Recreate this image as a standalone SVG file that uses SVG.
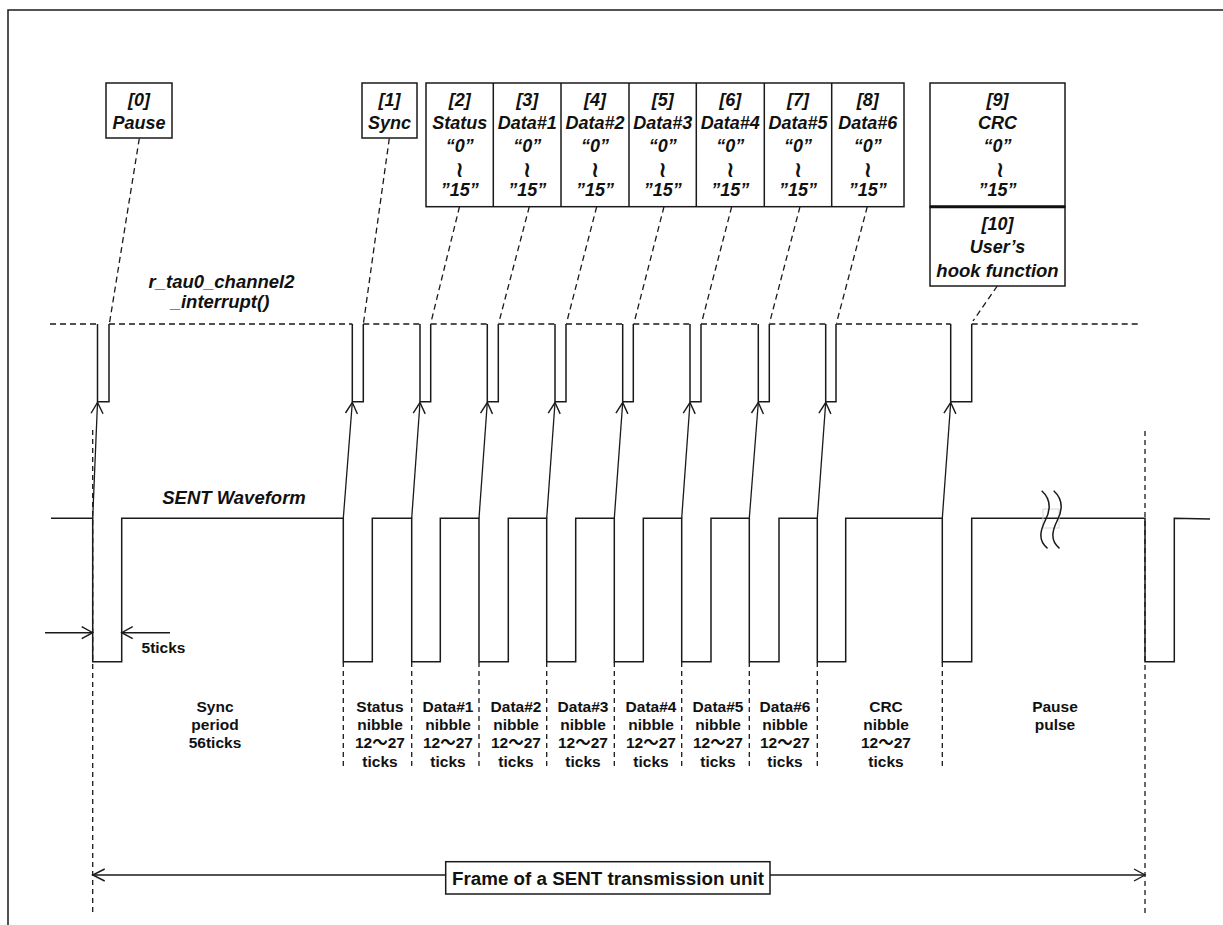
<svg xmlns="http://www.w3.org/2000/svg" width="1223" height="925" viewBox="0 0 1223 925">
<style>
  .bi { font-family: "Liberation Sans", Arial, sans-serif; font-weight: bold; font-style: italic; font-size: 18px; fill: #111; text-anchor: middle; }
  .bl { font-size: 18.5px; }
  .b { font-family: "Liberation Sans", Arial, "Noto Sans CJK JP", sans-serif; font-weight: bold; font-size: 15.5px; fill: #111; text-anchor: middle; }
  .fr { font-size: 18.8px; }
  .wave { font-family: "DejaVu Sans", sans-serif; font-weight: bold; font-size: 22px; fill: #111; text-anchor: middle; }
  .box { fill: #fff; stroke: #1a1a1a; stroke-width: 1.5; }
  .sig { fill: none; stroke: #1a1a1a; stroke-width: 1.5; }
  .dash { fill: none; stroke: #1a1a1a; stroke-width: 1.3; stroke-dasharray: 6 4; }
  .vdash { fill: none; stroke: #1a1a1a; stroke-width: 1.3; stroke-dasharray: 5 4; }
  .arr { fill: none; stroke: #1a1a1a; stroke-width: 1.3; marker-end: url(#open); }
</style>
<defs>
  <marker id="open" markerUnits="userSpaceOnUse" markerWidth="20" markerHeight="20" refX="0" refY="0" orient="auto" overflow="visible">
    <path d="M-11,-6 L0,0 L-11,6" fill="none" stroke="#1a1a1a" stroke-width="1.4"/>
  </marker>
  <marker id="openStart" markerUnits="userSpaceOnUse" markerWidth="20" markerHeight="20" refX="0" refY="0" orient="auto-start-reverse" overflow="visible">
    <path d="M-12,-6 L0,0 L-12,6" fill="none" stroke="#1a1a1a" stroke-width="1.4"/>
  </marker>
</defs>
<rect x="0" y="0" width="1223" height="925" fill="#fff"/>
<rect x="8" y="10" width="1240" height="1000" fill="none" stroke="#1a1a1a" stroke-width="1.5"/>

<!-- Signal lines drawn directly -->
<g id="interrupt-line">
  <path class="dash" d="M50,324H97.5 M109,324H352.3 M363.3,324H420 M430.7,324H487.3 M498.3,324H555 M566,324H622.7 M633.3,324H690 M701,324H758.3 M769.3,324H825.7 M836,324H950.7 M971.7,324H1138"/>
  <path class="sig" d="M97.5,324V401.7H109V324 M352.3,324V401.7H363.3V324 M420,324V401.7H430.7V324 M487.3,324V401.7H498.3V324 M555,324V401.7H566V324 M622.7,324V401.7H633.3V324 M690,324V401.7H701V324 M758.3,324V401.7H769.3V324 M825.7,324V401.7H836V324 M950.7,324V401.7H971.7V324"/>
  <text class="bi bl" x="221.5" y="288">r_tau0_channel2</text>
  <text class="bi bl" x="220" y="308">_interrupt()</text>
</g>

<g id="frame-guides">
  <path class="vdash" d="M92.7,430V913 M1145,431V913"/>
  <path class="vdash" d="M343.3,662V768 M411.7,662V768 M479,662V768 M546.7,662V768 M614.3,662V768 M681.7,662V768 M749.3,662V768 M817.3,662V768 M942.3,662V768"/>
</g>

<g id="sent-waveform">
  <path class="sig" d="M51,518.3H92.7V661.7H121.7V518.3H343.3V661.7H372.3V518.3H411.7V661.7H440.3V518.3H479V661.7H508.3V518.3H546.7V661.7H575.7V518.3H614.3V661.7H643.3V518.3H681.7V661.7H711V518.3H749.3V661.7H779V518.3H817.3V661.7H845.7V518.3H942.3V661.7H971.7V518.3H1145V661.7H1174.3V518.3L1210,519"/>
  <rect x="1043" y="509" width="16" height="19" fill="none" stroke="#d6d6d6" stroke-width="1"/>
  <path class="sig" d="M1041.7,490.7C1052,500 1050,511 1045.5,520C1041,529 1037,540 1047.5,548.3 M1053.7,490.7C1064,500 1062,511 1057.5,520C1053,529 1049,540 1059.5,548.3" stroke-width="1.3"/>
  <text class="bi bl" x="234" y="504">SENT Waveform</text>
</g>

<g id="five-ticks">
  <line class="sig" x1="45" y1="632.7" x2="92.7" y2="632.7" stroke-width="1.3" marker-end="url(#open)"/>
  <line class="sig" x1="170" y1="632.7" x2="121.7" y2="632.7" stroke-width="1.3" marker-end="url(#open)"/>
  <text class="b" x="163.5" y="652.5">5ticks</text>
</g>

<!-- Nodes -->
<g id="node-0">
  <rect class="box" x="106" y="83" width="66" height="55"/>
  <text class="bi" x="139" y="106">[0]</text>
  <text class="bi" x="139" y="129">Pause</text>
</g>
<g id="node-1">
  <rect class="box" x="362" y="83" width="55" height="55"/>
  <text class="bi" x="389.5" y="106">[1]</text>
  <text class="bi" x="389.5" y="129">Sync</text>
</g>
<g id="node-2-8">
  <rect class="box" x="426" y="83" width="478" height="123.7"/>
  <path class="sig" d="M493.3,83V206.7 M561,83V206.7 M629,83V206.7 M696.3,83V206.7 M764.3,83V206.7 M831.7,83V206.7"/>
</g>
<g id="node-2">
  <text class="bi" x="459.7" y="106">[2]</text>
  <text class="bi" x="459.7" y="129">Status</text>
  <text class="bi" x="459.7" y="151.5">“0”</text>
  <text class="wave" x="459.7" y="176.5">≀</text>
  <text class="bi" x="459.7" y="196">”15”</text>
</g>
<g id="node-3">
  <text class="bi" x="527.2" y="106">[3]</text>
  <text class="bi" x="527.2" y="129">Data#1</text>
  <text class="bi" x="527.2" y="151.5">“0”</text>
  <text class="wave" x="527.2" y="176.5">≀</text>
  <text class="bi" x="527.2" y="196">”15”</text>
</g>
<g id="node-4">
  <text class="bi" x="595" y="106">[4]</text>
  <text class="bi" x="595" y="129">Data#2</text>
  <text class="bi" x="595" y="151.5">“0”</text>
  <text class="wave" x="595" y="176.5">≀</text>
  <text class="bi" x="595" y="196">”15”</text>
</g>
<g id="node-5">
  <text class="bi" x="662.7" y="106">[5]</text>
  <text class="bi" x="662.7" y="129">Data#3</text>
  <text class="bi" x="662.7" y="151.5">“0”</text>
  <text class="wave" x="662.7" y="176.5">≀</text>
  <text class="bi" x="662.7" y="196">”15”</text>
</g>
<g id="node-6">
  <text class="bi" x="730.3" y="106">[6]</text>
  <text class="bi" x="730.3" y="129">Data#4</text>
  <text class="bi" x="730.3" y="151.5">“0”</text>
  <text class="wave" x="730.3" y="176.5">≀</text>
  <text class="bi" x="730.3" y="196">”15”</text>
</g>
<g id="node-7">
  <text class="bi" x="798" y="106">[7]</text>
  <text class="bi" x="798" y="129">Data#5</text>
  <text class="bi" x="798" y="151.5">“0”</text>
  <text class="wave" x="798" y="176.5">≀</text>
  <text class="bi" x="798" y="196">”15”</text>
</g>
<g id="node-8">
  <text class="bi" x="867.8" y="106">[8]</text>
  <text class="bi" x="867.8" y="129">Data#6</text>
  <text class="bi" x="867.8" y="151.5">“0”</text>
  <text class="wave" x="867.8" y="176.5">≀</text>
  <text class="bi" x="867.8" y="196">”15”</text>
</g>
<g id="node-9">
  <rect class="box" x="930" y="83" width="135" height="123.7"/>
  <text class="bi" x="997.5" y="106">[9]</text>
  <text class="bi" x="997.5" y="129">CRC</text>
  <text class="bi" x="997.5" y="151.5">“0”</text>
  <text class="wave" x="1000" y="176.5">≀</text>
  <text class="bi" x="997.5" y="196">”15”</text>
</g>
<g id="node-10">
  <rect class="box" x="930" y="206.7" width="135" height="79.3"/>
  <line x1="930" y1="206.7" x2="1065" y2="206.7" stroke="#111" stroke-width="3"/>
  <text class="bi" x="997.5" y="230">[10]</text>
  <text class="bi" x="997.5" y="253">User’s</text>
  <text class="bi bl" x="997.5" y="276.5">hook function</text>
</g>

<!-- Connectors -->
<g id="connectors">
  <path class="dash" d="M139.3,138.5L109.5,323 M389.3,138.5L363.5,323 M459.5,206.7L430.8,323 M529.3,206.7L498.7,323 M596.7,206.7L566.5,323 M664,206.7L634,323 M731.7,206.7L701.5,323 M800,206.7L769.5,323 M867.3,206.7L836.5,323 M997.3,286L973,321"/>
  <line class="arr" x1="92.7" y1="518.3" x2="97.5" y2="402.5"/>
  <line class="arr" x1="343.3" y1="518.3" x2="352.3" y2="402.5"/>
  <line class="arr" x1="411.7" y1="518.3" x2="420" y2="402.5"/>
  <line class="arr" x1="479" y1="518.3" x2="487.3" y2="402.5"/>
  <line class="arr" x1="546.7" y1="518.3" x2="555" y2="402.5"/>
  <line class="arr" x1="614.3" y1="518.3" x2="622.7" y2="402.5"/>
  <line class="arr" x1="681.7" y1="518.3" x2="690" y2="402.5"/>
  <line class="arr" x1="749.3" y1="518.3" x2="758.3" y2="402.5"/>
  <line class="arr" x1="817.3" y1="518.3" x2="825.7" y2="402.5"/>
  <line class="arr" x1="942.3" y1="518.3" x2="950.7" y2="402.5"/>
</g>

<g id="period-labels">
  <text class="b" x="215" y="711.5">Sync</text>
  <text class="b" x="215" y="729.5">period</text>
  <text class="b" x="215" y="747.5">56ticks</text>
  <text class="b" x="380" y="711.5">Status</text>
  <text class="b" x="380" y="730">nibble</text>
  <text class="b" x="380" y="748">12～27</text>
  <text class="b" x="380" y="766.5">ticks</text>
  <text class="b" x="448" y="711.5">Data#1</text>
  <text class="b" x="448" y="730">nibble</text>
  <text class="b" x="448" y="748">12～27</text>
  <text class="b" x="448" y="766.5">ticks</text>
  <text class="b" x="516" y="711.5">Data#2</text>
  <text class="b" x="516" y="730">nibble</text>
  <text class="b" x="516" y="748">12～27</text>
  <text class="b" x="516" y="766.5">ticks</text>
  <text class="b" x="583" y="711.5">Data#3</text>
  <text class="b" x="583" y="730">nibble</text>
  <text class="b" x="583" y="748">12～27</text>
  <text class="b" x="583" y="766.5">ticks</text>
  <text class="b" x="651" y="711.5">Data#4</text>
  <text class="b" x="651" y="730">nibble</text>
  <text class="b" x="651" y="748">12～27</text>
  <text class="b" x="651" y="766.5">ticks</text>
  <text class="b" x="718" y="711.5">Data#5</text>
  <text class="b" x="718" y="730">nibble</text>
  <text class="b" x="718" y="748">12～27</text>
  <text class="b" x="718" y="766.5">ticks</text>
  <text class="b" x="785" y="711.5">Data#6</text>
  <text class="b" x="785" y="730">nibble</text>
  <text class="b" x="785" y="748">12～27</text>
  <text class="b" x="785" y="766.5">ticks</text>
  <text class="b" x="886" y="711.5">CRC</text>
  <text class="b" x="886" y="730">nibble</text>
  <text class="b" x="886" y="748">12～27</text>
  <text class="b" x="886" y="766.5">ticks</text>
  <text class="b" x="1055" y="711.5">Pause</text>
  <text class="b" x="1055" y="729.5">pulse</text>
</g>

<g id="frame">
  <line x1="92.7" y1="875" x2="1145" y2="875" stroke="#1a1a1a" stroke-width="1.4" marker-start="url(#openStart)" marker-end="url(#open)"/>
  <rect class="box" x="445.7" y="861.7" width="324.3" height="32.3"/>
  <text class="b fr" x="608" y="885">Frame of a SENT transmission unit</text>
</g>
</svg>
